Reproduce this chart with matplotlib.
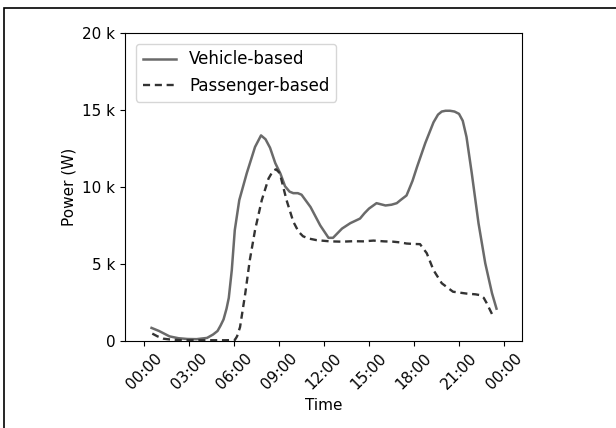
import matplotlib
matplotlib.use("Agg")
import matplotlib.pyplot as plt
from matplotlib.ticker import EngFormatter, FixedLocator, FixedFormatter
from matplotlib.patches import Rectangle

# hours of day
veh_hours = [0.5, 1.0, 1.7, 2.3, 2.9, 3.5, 4.2, 4.6, 4.9, 5.1, 5.3, 5.5, 5.65, 5.85, 6.05, 6.35,
             6.85, 7.4, 7.8, 8.1, 8.4, 8.75, 9.1, 9.4, 9.7, 9.95, 10.25, 10.5, 10.8, 11.1,
             11.75, 12.3, 12.6, 12.9, 13.2, 13.75, 14.4, 14.7, 15.0, 15.5, 16.1, 16.5, 16.85,
             17.1, 17.5, 17.65, 17.9, 18.2, 18.75, 19.3, 19.6, 19.85, 20.1, 20.4, 20.7, 21.0,
             21.25, 21.5, 21.85, 22.3, 22.75, 23.2, 23.5]
veh_power = [850, 650, 300, 180, 130, 120, 200, 420, 650, 1000, 1400, 2100, 2800, 4600, 7200, 9150,
             10900, 12600, 13350, 13100, 12550, 11550, 10850, 10050, 9700, 9600, 9600, 9500, 9100, 8700,
             7500, 6700, 6700, 7000, 7300, 7650, 7950, 8300, 8600, 8950, 8800, 8850, 8950,
             9150, 9450, 9800, 10400, 11300, 12850, 14200, 14700, 14900, 14950, 14950, 14900, 14750,
             14300, 13250, 10900, 7650, 5050, 3100, 2100]

pas_hours = [0.55, 0.9, 1.3, 1.8, 2.4, 3.0, 3.6, 4.2, 4.8, 5.4, 6.05, 6.2, 6.4, 6.75, 7.05, 7.4,
             7.85, 8.3, 8.6, 8.8, 9.05, 9.5, 9.95, 10.3, 10.6, 11.0, 11.5, 12.4, 13.2, 13.95,
             14.6, 15.3, 16.0, 16.6, 17.1, 17.5, 18.0, 18.4, 18.85, 19.3, 19.85, 20.6, 21.5,
             22.1, 22.4, 22.65, 22.85, 23.2]
pas_power = [480, 300, 150, 90, 60, 50, 50, 50, 50, 50, 60, 300, 900, 3100, 5250, 7200,
             9150, 10550, 11050, 11150, 10900, 9150, 7750, 7100, 6800, 6650, 6550, 6470, 6450, 6480,
             6470, 6520, 6470, 6450, 6400, 6330, 6300, 6290, 5700, 4600, 3750, 3200, 3080,
             3030, 2980, 2800, 2450, 1750]

xtick_hours = [0, 3, 6, 9, 12, 15, 18, 21, 24]
xtick_labels = ["00:00", "03:00", "06:00", "09:00", "12:00", "15:00", "18:00", "21:00", "00:00"]
ytick_values = [0, 5000, 10000, 15000, 20000]

fig = plt.figure(figsize=(6.16, 4.28), dpi=100)
ax = fig.add_axes([125/616, 1 - 341/428, (522-125)/616, (341-33)/428])

ax.plot(veh_hours, veh_power, color="#6a6a6a", lw=1.8, label="Vehicle-based")
ax.plot(pas_hours, pas_power, color="#333333", lw=1.7, ls=(0, (3, 2)), label="Passenger-based")

ax.set_xlim(-1.27, 25.2)
ax.set_ylim(0, 20000)
ax.xaxis.set_major_locator(FixedLocator(xtick_hours))
ax.xaxis.set_major_formatter(FixedFormatter(xtick_labels))
ax.yaxis.set_major_locator(FixedLocator(ytick_values))
ax.yaxis.set_major_formatter(EngFormatter())
plt.setp(ax.get_xticklabels(), rotation=45)
ax.set_xlabel("Time", fontsize=11)
ax.set_ylabel("Power (W)", fontsize=11)
ax.tick_params(labelsize=11)
ax.legend(loc="upper left", fontsize=12, borderaxespad=0.65)

fig.patches.append(Rectangle((4/616, -0.1), 1.2, (428 - 8)/428 + 0.1, transform=fig.transFigure,
                             fill=False, edgecolor="black", lw=1.2))

fig.savefig("out.png", dpi=100)
